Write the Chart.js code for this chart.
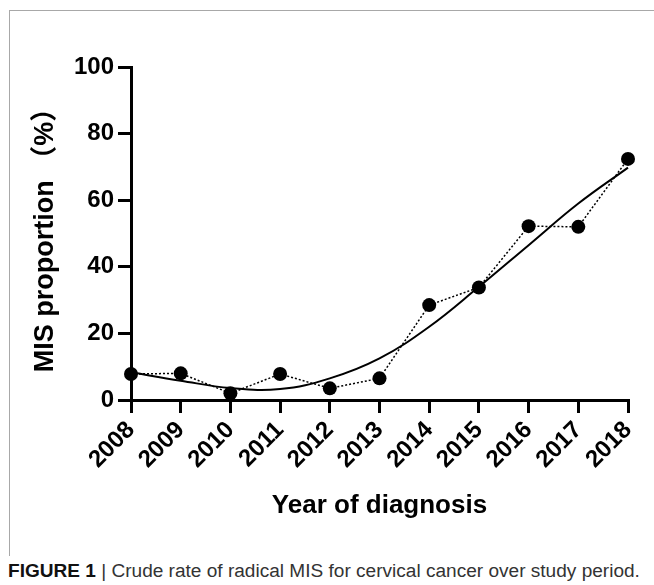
<!DOCTYPE html>
<html>
<head>
<meta charset="utf-8">
<title>MIS proportion</title>
<script src="https://cdn.jsdelivr.net/npm/chart.js@4.4.1/dist/chart.umd.min.js"></script>
<style>
    html, body { margin: 0; padding: 0; background: #fff; }
    body { width: 654px; height: 585px; position: relative; overflow: hidden; }
    .frame-top { position: absolute; left: 9px; top: 10px; width: 645px; height: 1px; background: #a8a8a8; }
    .frame-left { position: absolute; left: 9px; top: 10px; width: 1px; height: 546px; background: #a8a8a8; }
    .chart-box { position: absolute; left: 0; top: 0; width: 654px; height: 540px; }
    .caption {
        position: absolute; left: 8px; top: 561px; white-space: nowrap;
        font-family: Arial, "Liberation Sans", sans-serif; font-size: 18px; color: #333;
        transform-origin: left top;
    }
    .caption b { font-weight: bold; color: #111; }
</style>
</head>
<body>
<div class="frame-top"></div>
<div class="frame-left"></div>
<div class="chart-box"><canvas id="misChart"></canvas></div>
<div class="caption" id="caption"><b>FIGURE 1</b> | Crude rate of radical MIS for cervical cancer over study period.</div>

<script>
// values
const years = ['2008', '2009', '2010', '2011', '2012', '2013', '2014', '2015', '2016', '2017', '2018'];
const observed = [7.8, 8.0, 2.0, 7.8, 3.5, 6.5, 28.5, 33.8, 52.2, 52.0, 72.4];
const fitted = [8.3, 5.8, 3.6, 3.3, 6.5, 12.5, 22.0, 34.0, 46.5, 59.0, 69.8];
const yTicks = [0, 20, 40, 60, 80, 100];

const FONT = 'Arial, "Liberation Sans", "Noto Sans CJK SC", sans-serif';

// squeeze the caption to the width it has in the figure
const caption = document.getElementById('caption');
caption.style.transform = `scaleX(${632 / caption.offsetWidth})`;

const ctx = document.getElementById('misChart').getContext('2d');

new Chart(ctx, {
    type: 'line',
    data: {
        labels: years,
        datasets: [
            {
                label: 'Observed',
                data: observed,
                borderColor: '#000',
                backgroundColor: '#000',
                borderWidth: 1.5,
                borderDash: [2, 2],
                pointRadius: 7,
                pointBorderWidth: 0,
                pointBackgroundColor: '#000',
                tension: 0,
                clip: false,
                order: 1
            },
            {
                label: 'Fit',
                data: fitted,
                borderColor: '#000',
                borderWidth: 2,
                pointRadius: 0,
                tension: 0.4,
                clip: false,
                order: 2
            }
        ]
    },
    options: {
        responsive: true,
        maintainAspectRatio: false,
        animation: false,
        events: [],
        layout: { padding: { left: 0, top: 67, right: 26, bottom: 0 } },
        plugins: {
            legend: { display: false },
            tooltip: { enabled: false }
        },
        scales: {
            x: {
                type: 'category',
                offset: false,
                afterFit: (scale) => { scale.height = 140; },
                border: { display: true, color: '#000', width: 3 },
                grid: { drawOnChartArea: false, drawTicks: true, tickLength: 13, color: '#000', lineWidth: 3 },
                ticks: {
                    color: '#000',
                    maxRotation: 45,
                    minRotation: 45,
                    padding: 3,
                    font: { family: FONT, size: 24, weight: 'bold' }
                },
                title: {
                    display: true,
                    text: 'Year of diagnosis',
                    color: '#000',
                    padding: { top: 0, bottom: 19 },
                    font: { family: FONT, size: 26, weight: 'bold' }
                }
            },
            y: {
                min: 0,
                max: 100,
                afterFit: (scale) => { scale.width = 131; },
                afterBuildTicks: (scale) => { scale.ticks = yTicks.map(v => ({ value: v })); },
                border: { display: true, color: '#000', width: 3 },
                grid: { drawOnChartArea: false, drawTicks: true, tickLength: 13, color: '#000', lineWidth: 3 },
                ticks: {
                    color: '#000',
                    padding: 4,
                    font: { family: FONT, size: 24, weight: 'bold' }
                },
                title: {
                    display: true,
                    text: 'MIS proportion （%）',
                    color: '#000',
                    padding: { top: 29, bottom: 0 },
                    font: { family: FONT, size: 27, weight: 'bold' }
                }
            }
        }
    }
});
</script>
</body>
</html>
